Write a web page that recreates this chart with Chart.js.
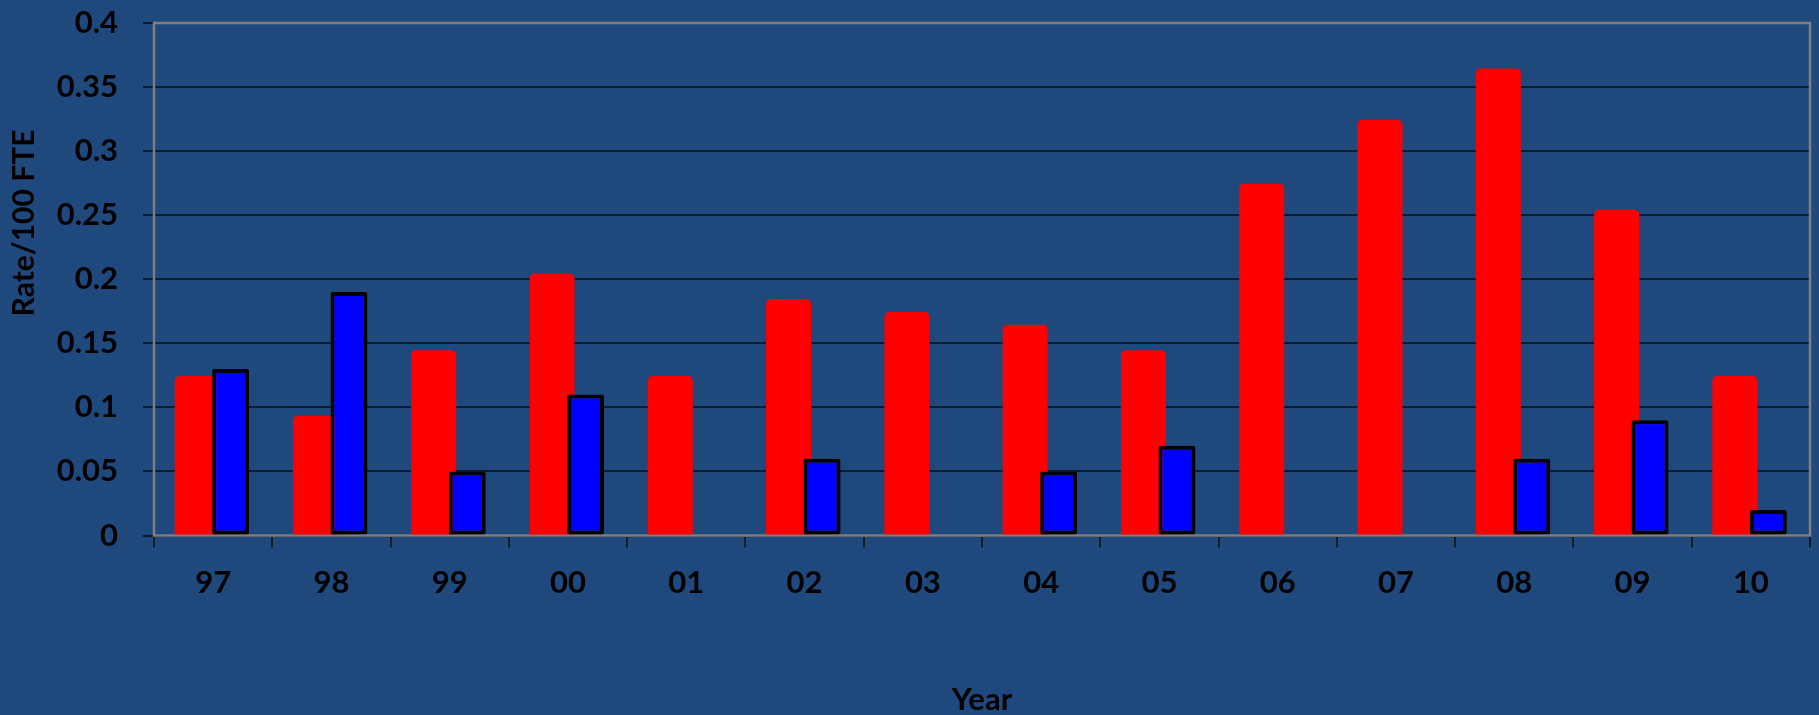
<!DOCTYPE html>
<html>
<head>
<meta charset="utf-8">
<script src="https://cdn.jsdelivr.net/npm/chart.js@4"></script>
<style>
  html, body { margin: 0; padding: 0; background: #1F497D; }
  #wrap { width: 1819px; height: 715px; position: relative; }
</style>
</head>
<body>
<div id="wrap"><canvas id="chart"></canvas></div>
<script>
// Rate per 100 FTE by year
const years = ['97', '98', '99', '00', '01', '02', '03', '04', '05', '06', '07', '08', '09', '10'];
const redSeries = [0.1245, 0.0935, 0.1445, 0.2045, 0.1245, 0.1845, 0.1745, 0.1645, 0.1445, 0.2745, 0.3245, 0.3645, 0.2545, 0.1245];
const blueSeries = [0.13, 0.19, 0.05, 0.11, null, 0.06, null, 0.05, 0.07, null, null, 0.06, 0.09, 0.02];
const yAxisTitle = 'Rate/100 FTE';
const xAxisTitle = 'Year';

const BG = '#1F497D';
const GRID = '#0E1C30';
const FRAME = '#7F7F7F';
const TEXT = '#000000';
const FONT = 'Lato';
const FONT_SIZE = 31;

Chart.defaults.font.family = FONT;

// page background behind the whole canvas
const background = {
  id: 'background',
  beforeDraw(chart) {
    const { ctx, width, height } = chart;
    ctx.save();
    ctx.fillStyle = BG;
    ctx.fillRect(0, 0, width, height);
    ctx.restore();
  }
};

// grey frame round the plot area
const plotFrame = {
  id: 'plotFrame',
  beforeDatasetsDraw(chart) {
    const { ctx, chartArea: a } = chart;
    ctx.save();
    ctx.strokeStyle = FRAME;
    ctx.lineWidth = 2.5;
    ctx.strokeRect(a.left, a.top, a.right - a.left, a.bottom - a.top);
    ctx.restore();
  }
};

// the outlined series sits on top of the filled one
const layerOrder = {
  id: 'layerOrder',
  beforeDatasetDraw(chart, args) {
    if (args.index === 1) return false;
  },
  afterDatasetsDraw(chart) {
    const meta = chart.getDatasetMeta(1);
    if (meta.visible) meta.controller.draw();
  }
};

// rotated y-axis caption
const yCaption = {
  id: 'yCaption',
  afterDraw(chart) {
    const { ctx, chartArea: a } = chart;
    ctx.save();
    ctx.translate(24, a.top + 200);
    ctx.rotate(-Math.PI / 2);
    ctx.font = 'bold 30px ' + FONT;
    ctx.fillStyle = TEXT;
    ctx.textAlign = 'center';
    ctx.textBaseline = 'middle';
    ctx.fillText(yAxisTitle, 0, 0);
    ctx.restore();
  }
};

new Chart(document.getElementById('chart'), {
  type: 'bar',
  data: {
    labels: years,
    datasets: [
      {
        data: redSeries,
        backgroundColor: '#FF0000',
        borderWidth: 0,
        borderRadius: { topLeft: 5, topRight: 5, bottomLeft: 0, bottomRight: 0 },
        borderSkipped: false,
        categoryPercentage: 0.541,
        barPercentage: 1.406
      },
      {
        data: blueSeries,
        backgroundColor: '#0000FF',
        borderColor: '#000000',
        borderWidth: 4,
        borderRadius: 2,
        borderSkipped: false,
        categoryPercentage: 0.592,
        barPercentage: 1.057
      }
    ]
  },
  options: {
    responsive: true,
    maintainAspectRatio: false,
    animation: false,
    devicePixelRatio: 1,
    layout: { padding: { top: 23, right: 9, bottom: 0, left: 0 } },
    plugins: {
      legend: { display: false },
      tooltip: { enabled: false }
    },
    scales: {
      x: {
        offset: true,
        border: { display: false },
        grid: {
          offset: true,
          drawOnChartArea: false,
          drawTicks: true,
          tickLength: 12,
          tickColor: GRID,
          lineWidth: 2
        },
        ticks: {
          color: TEXT,
          padding: 17,
          maxRotation: 0,
          autoSkip: false,
          font: { size: FONT_SIZE, weight: 'bold', family: FONT }
        },
        title: {
          display: true,
          text: xAxisTitle,
          color: TEXT,
          padding: 0,
          font: { size: FONT_SIZE, weight: 'bold', family: FONT, lineHeight: 1 }
        },
        afterFit(scale) { scale.height = 715 - 535.5; }
      },
      y: {
        min: 0,
        max: 0.4,
        border: { display: false },
        grid: {
          color: GRID,
          lineWidth: 2,
          tickLength: 11,
          tickColor: GRID
        },
        ticks: {
          stepSize: 0.05,
          color: TEXT,
          padding: 25,
          font: { size: FONT_SIZE, weight: 'bold', family: FONT },
          callback: v => String(+(+v).toFixed(2))
        },
        afterFit(scale) {
          scale.width = 154;
          scale.paddingTop = 0;
          scale.paddingBottom = 0;
        }
      }
    }
  },
  plugins: [background, plotFrame, layerOrder, yCaption]
});
</script>
</body>
</html>
